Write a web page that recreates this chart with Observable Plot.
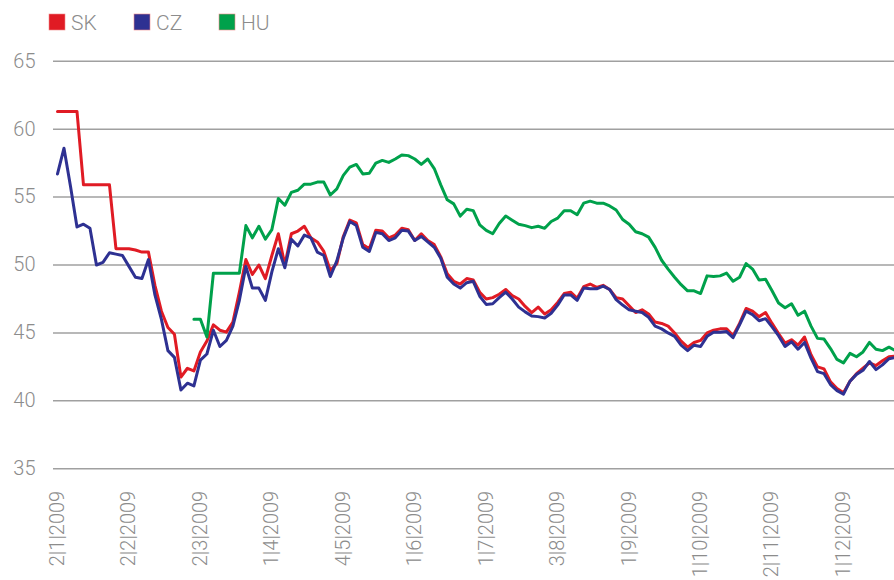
<!DOCTYPE html>
<html><head><meta charset="utf-8">
<script src="https://cdn.jsdelivr.net/npm/d3@7"></script>
<script src="https://cdn.jsdelivr.net/npm/@observablehq/plot@0.6"></script>
<style>
body{margin:0;background:#fff;}
#legend,#chart{display:block;}
svg{display:block;}
</style>
</head><body>
<div id="legend"></div>
<div id="chart"></div>
<script>
// Series names & colours
const names = ["SK", "CZ", "HU"];
const colors = ["#e01b24", "#2e3192", "#00a14b"];

// Tick labels (every 22nd business day)
const tickIdx = [0, 22, 44, 66, 88, 110, 132, 154, 176, 198, 220, 242];
const tickLabels = ["2|1|2009","2|2|2009","2|3|2009","1|4|2009","4|5|2009","1|6|2009","1|7|2009","3|8|2009","1|9|2009","1|10|2009","2|11|2009","1|12|2009"];
const yTicks = [35, 40, 45, 50, 55, 60, 65];

// values sampled every 2nd business day
const step = 2;
const sk = [61.3,61.3,61.3,61.3,55.9,55.9,55.9,55.9,55.9,51.2,
51.2,51.2,51.1,50.95,50.95,48.5,46.6,45.4,44.9,41.75,
42.4,42.2,43.6,44.4,45.6,45.2,45.06,45.8,48.0,50.4,
49.3,50.0,49.0,50.7,52.3,50.0,52.3,52.5,52.85,52.0,
51.7,51.0,49.6,50.1,52.1,53.3,53.1,51.5,51.2,52.55,
52.5,52.0,52.2,52.7,52.6,51.8,52.3,51.8,51.5,50.6,
49.35,48.8,48.6,49.0,48.9,48.0,47.5,47.6,47.85,48.2,
47.75,47.5,46.95,46.5,46.9,46.4,46.7,47.25,47.9,48.0,
47.55,48.4,48.6,48.35,48.5,48.2,47.6,47.5,47.0,46.5,
46.7,46.4,45.8,45.7,45.5,45.0,44.4,43.95,44.3,44.45,
45.0,45.2,45.3,45.3,44.8,45.7,46.8,46.6,46.2,46.5,
45.7,44.95,44.25,44.5,44.1,44.7,43.4,42.5,42.35,41.4,
40.9,40.6,41.45,42.0,42.4,42.8,42.6,42.95,43.25,43.3];
const cz = [56.7,58.6,55.8,52.8,53.0,52.7,50.0,50.2,50.9,50.8,
50.7,49.9,49.1,49.0,50.4,47.8,46.0,43.7,43.2,40.8,
41.3,41.1,43.0,43.45,45.2,44.0,44.45,45.5,47.4,49.9,
48.3,48.3,47.4,49.5,51.2,49.8,51.9,51.4,52.2,52.0,
50.95,50.7,49.15,50.3,52.0,53.2,52.9,51.3,51.0,52.4,
52.3,51.8,52.0,52.55,52.5,51.8,52.1,51.7,51.3,50.5,
49.1,48.6,48.3,48.7,48.8,47.7,47.1,47.15,47.6,48.0,
47.5,46.9,46.55,46.25,46.2,46.1,46.45,47.05,47.8,47.8,
47.4,48.3,48.25,48.25,48.45,48.2,47.45,47.05,46.7,46.6,
46.5,46.15,45.5,45.3,45.0,44.75,44.1,43.7,44.1,44.0,
44.75,45.05,45.05,45.1,44.65,45.6,46.6,46.35,45.9,46.05,
45.45,44.8,44.0,44.35,43.8,44.3,43.15,42.15,42.0,41.2,
40.75,40.5,41.45,41.95,42.25,42.9,42.3,42.65,43.1,43.2];
const hu = [null,null,null,null,null,null,null,null,null,null,
null,null,null,null,null,null,null,null,null,null,
null,46.0,46.0,44.7,49.4,49.4,49.4,49.4,49.4,52.9,
52.0,52.85,51.9,52.6,54.9,54.4,55.35,55.5,55.95,55.95,
56.1,56.1,55.15,55.6,56.6,57.2,57.4,56.7,56.75,57.5,
57.7,57.55,57.8,58.1,58.05,57.8,57.4,57.8,57.1,55.9,
54.8,54.5,53.6,54.1,54.0,52.95,52.55,52.3,53.05,53.6,
53.3,53.0,52.9,52.75,52.85,52.7,53.2,53.45,54.0,54.0,
53.7,54.55,54.7,54.55,54.55,54.35,54.05,53.35,53.0,52.45,
52.3,52.05,51.3,50.35,49.7,49.1,48.55,48.1,48.1,47.9,
49.2,49.15,49.2,49.4,48.8,49.1,50.1,49.7,48.9,48.95,
48.1,47.2,46.85,47.15,46.3,46.6,45.5,44.6,44.55,43.85,
43.05,42.8,43.5,43.25,43.6,44.3,43.8,43.7,43.95,43.7];

const seriesValues = [sk, cz, hu];
const textColor = "#8c8c8c";
const font = "Roboto, 'Liberation Sans', sans-serif";

// Legend
const leg = d3.select("#legend").append("svg").attr("width", 894).attr("height", 42);
const legX = [49, 134, 219];
names.forEach((n, i) => {
  leg.append("rect").attr("x", legX[i]).attr("y", 14).attr("width", 16).attr("height", 16)
    .attr("fill", colors[i]).attr("stroke", "#f08a8a").attr("stroke-width", 0.6);
  leg.append("text").attr("x", legX[i] + 22).attr("y", 30).text(n)
    .attr("font-family", font).attr("font-weight", 300).attr("font-size", 21).attr("fill", textColor);
});

const lineMarks = seriesValues.map((vals, s) =>
  Plot.lineY(vals, {x: (d, i) => i * step, y: d => d, stroke: colors[s], strokeWidth: 3, clip: true, strokeLinejoin: "round"})
);

const chart = Plot.plot({
  width: 894,
  height: 538,
  marginLeft: 53,
  marginRight: 0,
  marginTop: 18.7,
  marginBottom: 111.7,
  x: {domain: [-1.23, 257.7]},
  y: {domain: [35, 65]},
  style: {fontFamily: font, fontWeight: 300, background: "white", color: textColor},
  marks: [
    Plot.ruleY(yTicks, {stroke: "#a0a0a0", strokeWidth: 1.5}),
    Plot.axisY({ticks: yTicks, tickSize: 0, tickPadding: 18, fontSize: 20, fill: textColor, label: null}),
    Plot.axisX({ticks: tickIdx, tickFormat: d => tickLabels[tickIdx.indexOf(d)], tickSize: 0, tickRotate: -90, tickPadding: 22, fontSize: 20, fill: textColor, label: null}),
    ...lineMarks
  ]
});
document.getElementById("chart").append(chart);
</script>
</body></html>
